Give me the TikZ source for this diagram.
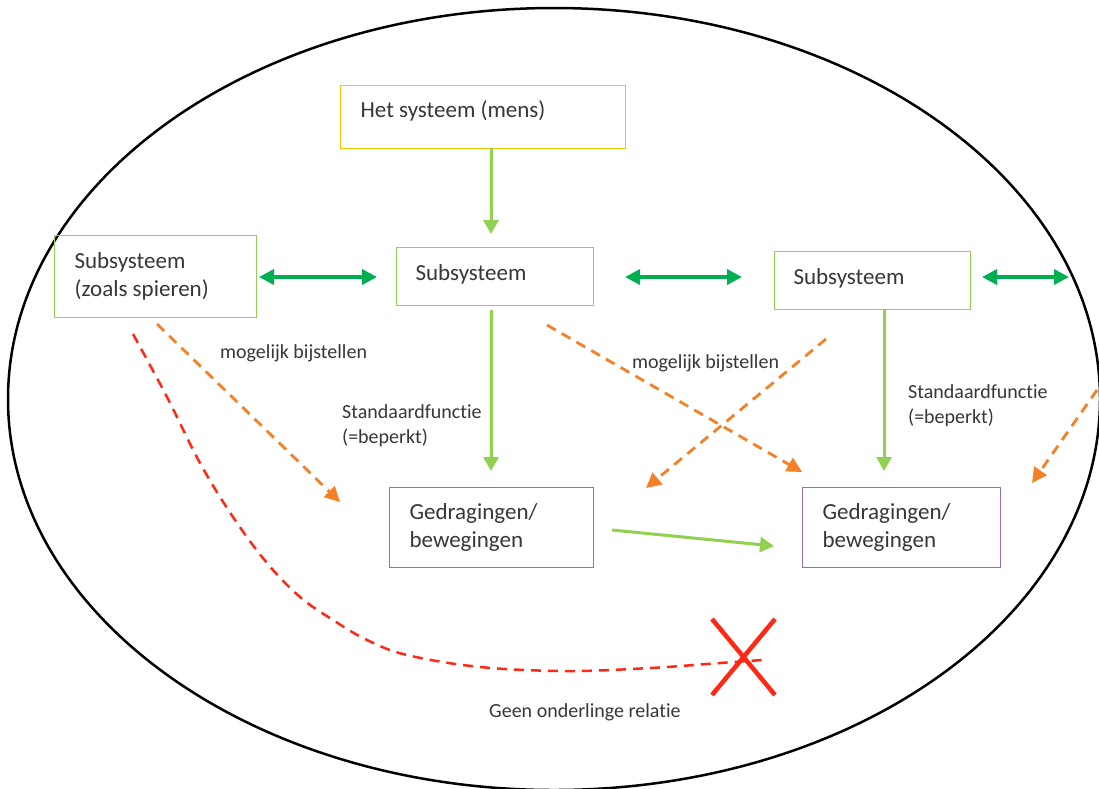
\documentclass[tikz,border=0pt]{standalone}
\usepackage{fontspec}
\setmainfont{Carlito}[Ligatures=NoCommon]
\usetikzlibrary{arrows.meta}
\definecolor{gold}{RGB}{255,192,0}
\definecolor{lgreen}{RGB}{146,208,80}
\definecolor{dgreen}{RGB}{0,176,80}
\definecolor{purp}{RGB}{150,110,190}
\definecolor{orng}{RGB}{245,128,37}
\definecolor{redd}{RGB}{255,40,20}
\definecolor{txt}{RGB}{55,55,55}
\begin{document}
\begin{tikzpicture}[x=1pt,y=-1pt,
  box/.style={draw, line width=1.2pt, rectangle, inner xsep=20pt, inner ysep=0pt,
    align=flush left, anchor=north west, text=txt, font=\fontsize{23}{27.5}\selectfont},
  lbl/.style={anchor=base west, inner sep=0pt, align=flush left, text=txt,
    font=\fontsize{20}{25}\selectfont},
  garrow/.style={draw=lgreen, line width=3pt, -{Triangle[length=14pt,width=15pt]}},
  darrow/.style={draw=dgreen, line width=3.5pt, {Triangle[length=15pt,width=15pt]}-{Triangle[length=15pt,width=15pt]}},
  oarrow/.style={draw=orng, line width=2.8pt, dash pattern=on 10pt off 7pt, -{Triangle[length=15pt,width=15pt]}},
]
\useasboundingbox (0,0) rectangle (1099,788);
\clip (0,0) rectangle (1099,788);
\fill[white] (0,0) rectangle (1099,788);
\draw[line width=2.5pt] (554,399) ellipse [x radius=546, y radius=391];

% boxes
\node[box, draw=gold, text width=245pt, text height=32pt, text depth=31pt] (sys) at (340,85) {Het systeem (mens)};
\node[box, draw=lgreen, text width=162pt, text height=33pt, text depth=49pt] (s1) at (54,235) {Subsysteem\\(zoals spieren)};
\node[box, draw=lgreen, text width=159pt, inner xsep=19pt, text height=33pt, text depth=25pt] (s2) at (396,247) {Subsysteem};
\node[box, draw=lgreen, text width=158pt, inner xsep=19pt, text height=33pt, text depth=25pt] (s3) at (774,251) {Subsysteem};
\node[box, draw=purp, text width=164pt, text height=32pt, text depth=48pt] (g1) at (389,487) {Gedragingen/\\bewegingen};
\node[box, draw=purp, text width=158pt, text height=32pt, text depth=48pt] (g2) at (802,487) {Gedragingen/\\bewegingen};

% labels
\node[lbl] (l1) at (220,358) {mogelijk bijstellen};
\node[lbl] (l2) at (632,368) {mogelijk bijstellen};
\node[lbl] (l3) at (342,443) {Standaardfunctie\\(=beperkt)};
\node[lbl] (l4) at (908,423) {Standaardfunctie\\(=beperkt)};
\node[lbl] (l5) at (489,717) {Geen onderlinge relatie};

% coordinates
\coordinate (a1s) at (491,148);
\coordinate (a1e) at (491,234);
\coordinate (a2s) at (491,310);
\coordinate (a2e) at (491,471);
\coordinate (a3s) at (884,310);
\coordinate (a3e) at (884,471);
\coordinate (a4s) at (612,530);
\coordinate (a4e) at (774,546);
\coordinate (d1s) at (259,277);
\coordinate (d1e) at (377,277);
\coordinate (d2s) at (625,277);
\coordinate (d2e) at (742,277);
\coordinate (d3s) at (982,277);
\coordinate (d3e) at (1069,277);
\coordinate (o1s) at (157,324);
\coordinate (o1e) at (340,502);
\coordinate (o2s) at (547,325);
\coordinate (o2e) at (802,472);
\coordinate (o3s) at (826,339);
\coordinate (o3e) at (646,488);
\coordinate (o4s) at (1097,390);
\coordinate (o4e) at (1032,483);
\coordinate (x1) at (712,619);
\coordinate (x2) at (775,695);
\coordinate (x3) at (775,619);
\coordinate (x4) at (712,695);

% arrows
\draw[garrow] (a1s) -- (a1e);
\draw[garrow] (a2s) -- (a2e);
\draw[garrow] (a3s) -- (a3e);
\draw[garrow] (a4s) -- (a4e);
\draw[darrow] (d1s) -- (d1e);
\draw[darrow] (d2s) -- (d2e);
\draw[darrow] (d3s) -- (d3e);
\draw[oarrow] (o1s) -- (o1e);
\draw[oarrow] (o2s) -- (o2e);
\draw[oarrow] (o3s) -- (o3e);
\draw[oarrow] (o4s) -- (o4e);

% red dashed curve
\draw[redd, line width=2.5pt, dash pattern=on 10pt off 7pt] plot[smooth, tension=0.6] coordinates
  {(133,334) (167,397) (200,463) (233,517) (267,563) (300,597) (333,620) (367,640) (407,655) (480,667) (567,671) (650,668) (720,663) (762,660)};

% cross
\draw[redd, line width=4.5pt] (x1) -- (x2);
\draw[redd, line width=4.5pt] (x3) -- (x4);
\end{tikzpicture}
\end{document}
